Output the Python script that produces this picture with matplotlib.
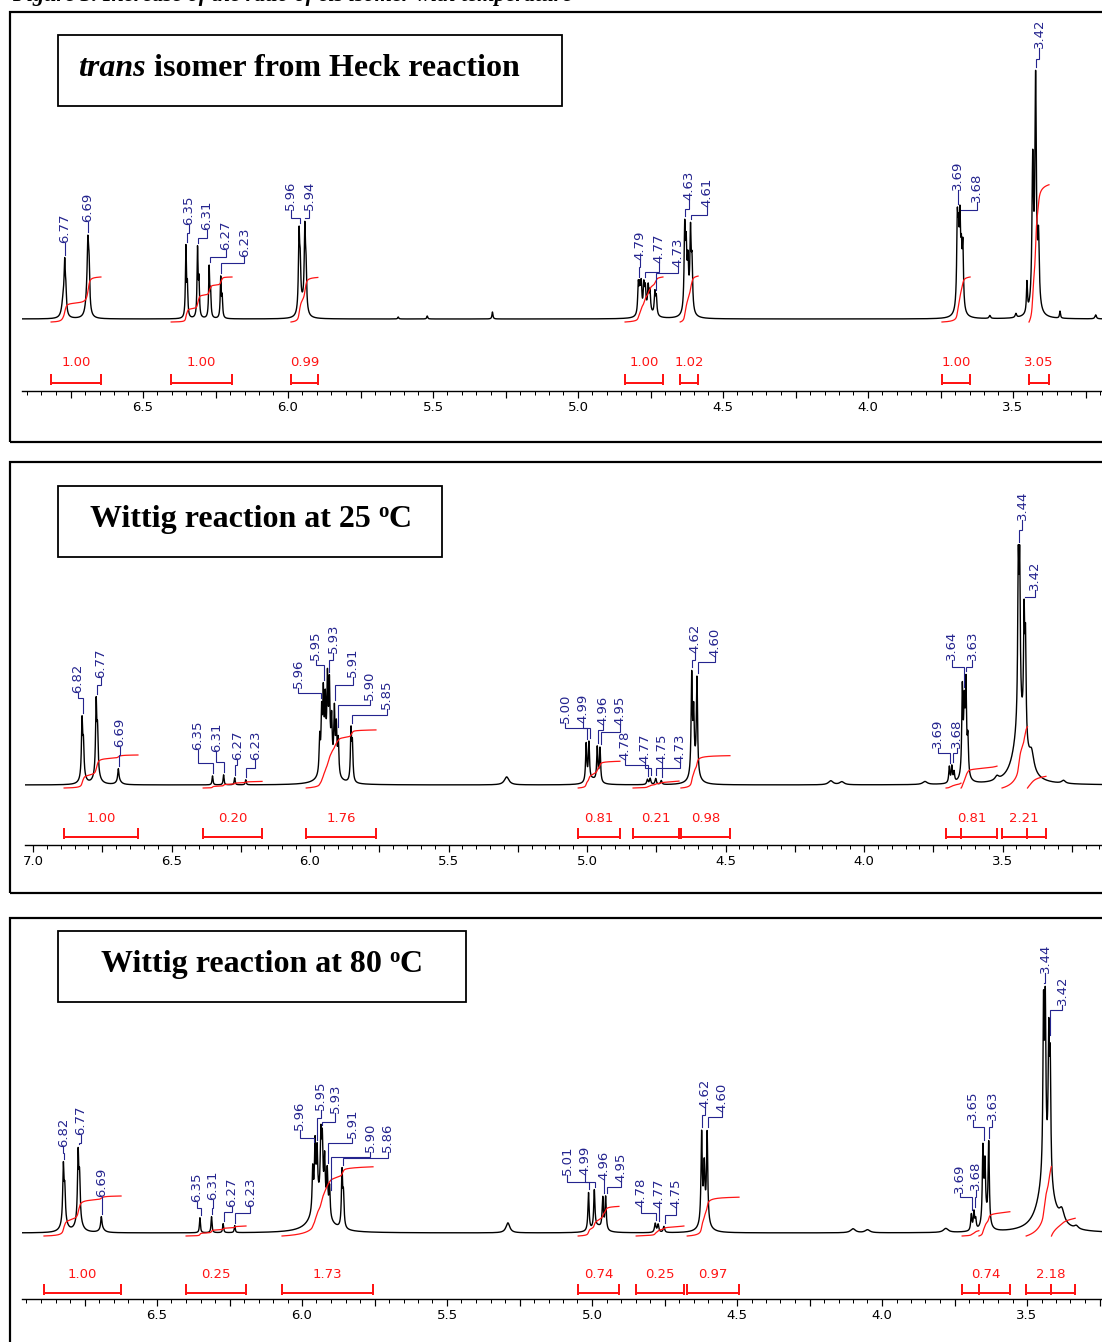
import numpy as np
import matplotlib
matplotlib.use("Agg")
import matplotlib.pyplot as plt
from matplotlib.patches import Rectangle
from matplotlib.ticker import MultipleLocator, FuncFormatter

FIG_W, FIG_H, DPI = 1102, 1342, 100
PT = 72.0 / DPI          # points per pixel
BLUE = "#24248e"
RED = "#ff1414"
D = 0.0025               # default half width of a sharp line (ppm)

# ------------------------------------------------------------------
# Spectrum 1: trans isomer from Heck reaction
# line position (ppm), height, half width (ppm)
heck_pos = [6.775, 6.770, 6.766, 6.692, 6.690, 6.686,
            6.352, 6.347, 6.312, 6.307, 6.272, 6.267, 6.232, 6.227,
            5.962, 5.958, 5.950, 5.942, 5.938,
            4.792, 4.787, 4.782, 4.773, 4.768, 4.758, 4.752, 4.735, 4.730, 4.760,
            4.632, 4.627, 4.621, 4.612, 4.607, 4.620,
            3.692, 3.688, 3.683, 3.678, 3.673, 3.685,
            3.452, 3.432, 3.422, 3.412, 3.425,
            5.295, 5.520, 5.620, 3.338, 3.490, 3.580, 3.215]
heck_amp = [18, 45, 20, 25, 50, 40,
            70, 30, 68, 35, 50, 25, 40, 20,
            75, 40, 12, 77, 40,
            30, 24, 28, 26, 22, 24, 20, 22, 18, 6,
            80, 55, 40, 75, 45, 10,
            80, 55, 75, 45, 60, 10,
            30, 140, 220, 65, 12,
            7, 3, 2, 7, 4, 3, 4]
heck_hw = [0.006, D, D, 0.006, D, D,
           0.002, 0.002, 0.002, 0.002, 0.002, 0.002, 0.002, 0.002,
           D, D, 0.010, D, D,
           D, D, D, D, D, D, D, D, D, 0.020,
           D, D, D, D, D, 0.012,
           D, D, D, D, D, 0.012,
           0.002, 0.003, 0.003, 0.003, 0.015,
           0.002, 0.002, 0.002, 0.002, 0.003, 0.003, 0.003]
heck_labels = [6.77, 6.69, 6.35, 6.31, 6.27, 6.23, 5.96, 5.94,
               4.79, 4.77, 4.73, 4.63, 4.61, 3.69, 3.68, 3.42]
heck_int_limits = [(6.817, 6.645), (6.403, 6.193), (5.990, 5.897),
                   (4.838, 4.707), (4.648, 4.586), (3.745, 3.648),
                   (3.445, 3.376)]
heck_int_values = [1.00, 1.00, 0.99, 1.00, 1.02, 1.00, 3.05]

# ------------------------------------------------------------------
# Spectrum 2: Wittig reaction at 25 oC
w25_pos = [6.823, 6.818, 6.820, 6.772, 6.767, 6.770, 6.692, 6.690,
           6.352, 6.312, 6.272, 6.232,
           5.965, 5.958, 5.952, 5.945, 5.937, 5.930, 5.922, 5.912, 5.905,
           5.898, 5.852, 5.847, 5.935,
           5.290,
           5.003, 4.993, 4.963, 4.953, 4.980,
           4.782, 4.772, 4.752, 4.732,
           4.622, 4.615, 4.603, 4.612,
           3.692, 3.683, 3.675,
           3.645, 3.638, 3.632, 3.625, 3.637,
           3.443, 3.438, 3.422, 3.417, 3.437, 3.395,
           4.120, 4.080, 3.780, 3.280, 3.520]
w25_amp = [55, 30, 8, 70, 40, 10, 12, 4,
           9, 10, 7, 5,
           35, 55, 70, 60, 80, 75, 45, 60, 45,
           35, 50, 35, 18,
           8,
           38, 38, 34, 34, 5,
           5, 6, 6, 4,
           97, 55, 95, 14,
           16, 16, 10,
           85, 60, 85, 35, 10,
           150, 145, 115, 95, 60, 18,
           4, 3, 3, 3, 4]
w25_hw = [D, D, 0.010, D, D, 0.012, D, 0.010,
          0.002, 0.002, 0.002, 0.002,
          D, D, D, D, D, D, D, D, D,
          D, D, D, 0.025,
          0.010,
          D, D, D, D, 0.020,
          0.003, 0.003, 0.003, 0.003,
          D, D, D, 0.015,
          D, D, D,
          D, D, D, D, 0.012,
          D, D, D, D, 0.025, 0.010,
          0.010, 0.010, 0.010, 0.008, 0.008]
w25_labels = [6.82, 6.77, 6.69, 6.35, 6.31, 6.27, 6.23,
              5.96, 5.95, 5.93, 5.91, 5.90, 5.85,
              5.00, 4.99, 4.96, 4.95, 4.78, 4.77, 4.75, 4.73,
              4.62, 4.60, 3.69, 3.68, 3.64, 3.63, 3.44, 3.42]
w25_int_limits = [(6.888, 6.621), (6.386, 6.173), (6.014, 5.762),
                  (5.032, 4.881), (4.834, 4.668), (4.661, 4.484),
                  (3.704, 3.650, 3.520), (3.502, 3.410, 3.343)]
w25_int_values = [1.00, 0.20, 1.76, 0.81, 0.21, 0.98, 0.81, 2.21]

# ------------------------------------------------------------------
# Spectrum 3: Wittig reaction at 80 oC
w80_pos = [6.823, 6.818, 6.820, 6.772, 6.767, 6.770, 6.692, 6.690,
           6.352, 6.312, 6.272, 6.232,
           5.963, 5.955, 5.948, 5.935, 5.930, 5.922, 5.913, 5.905,
           5.862, 5.857, 5.940,
           5.290,
           5.012, 4.992, 4.963, 4.953, 4.980,
           4.782, 4.772, 4.752,
           4.622, 4.613, 4.603, 4.612,
           3.692, 3.683, 3.677,
           3.652, 3.645, 3.632, 3.642,
           3.443, 3.437, 3.425, 3.420, 3.435, 3.380,
           4.100, 4.050, 3.780, 3.330]
w80_amp = [55, 30, 10, 65, 40, 12, 12, 4,
           15, 16, 9, 7,
           42, 62, 50, 62, 58, 48, 42, 30,
           55, 30, 30,
           10,
           38, 38, 31, 33, 6,
           9, 8, 6,
           88, 50, 88, 14,
           16, 18, 10,
           75, 55, 82, 10,
           160, 155, 130, 110, 60, 12,
           4, 3, 4, 3]
w80_hw = [D, D, 0.012, D, D, 0.012, D, 0.010,
          0.002, 0.002, 0.002, 0.002,
          D, D, D, D, D, D, D, D,
          D, D, 0.030,
          0.008,
          D, D, D, D, 0.020,
          0.003, 0.003, 0.003,
          D, D, D, 0.015,
          D, D, D,
          D, D, D, 0.012,
          D, D, D, D, 0.028, 0.010,
          0.010, 0.010, 0.010, 0.008]
w80_labels = [6.82, 6.77, 6.69, 6.35, 6.31, 6.27, 6.23,
              5.96, 5.95, 5.93, 5.91, 5.90, 5.86,
              5.01, 4.99, 4.96, 4.95, 4.78, 4.77, 4.75,
              4.62, 4.60, 3.69, 3.68, 3.65, 3.63, 3.44, 3.42]
w80_int_limits = [(6.890, 6.624), (6.400, 6.193), (6.069, 5.755),
                  (5.048, 4.907), (4.848, 4.683), (4.672, 4.493),
                  (3.724, 3.666, 3.559), (3.503, 3.416, 3.334)]
w80_int_values = [1.00, 0.25, 1.73, 0.74, 0.25, 0.97, 0.74, 2.18]

# ------------------------------------------------------------------
# Label placement (pixels): horizontal shift of the label from its line,
# height of the label foot and of the leader's elbow above the baseline
heck_lab_dx = [0, 0, 2, 9, 16, 23, -9, 4, 1, 14, 22, 4, 16, 0, 16, 3]
heck_lab_h = [76, 97, 94, 89, 69, 62, 109, 109, 59, 56, 52, 119, 112, 129, 117, 271]
heck_lab_k = [70, 90, 86, 81, 62, 56, 101, 101, 52, 47, 46, 110, 104, 120, 109, 260]

w25_lab_dx = [-5, 4, 1, -15, -8, 2, 9, -23, -8, 4, 18, 32, 35,
              -22, -7, 5, 19, -23, -6, 6, 18, 3, 17, -12, 4, -12, 6, 3, 10]
w25_lab_h = [92, 107, 38, 35, 33, 25, 25, 97, 125, 132, 108, 85, 76,
             62, 62, 60, 60, 25, 22, 22, 22, 132, 128, 37, 37, 125, 125, 265, 195]
w25_lab_k = [87, 100, 30, 22, 23, 20, 17, 92, 120, 125, 100, 80, 70,
             57, 57, 55, 53, 20, 17, 17, 17, 125, 123, 32, 32, 118, 118, 255, 188]

w80_lab_dx = [-1, 2, 0, -4, 1, 8, 15, -14, 4, 13, 24, 39, 45,
              -22, -10, 0, 14, -15, 0, 11, 3, 14, -12, 1, -11, 3, 1, 12]
w80_lab_h = [86, 98, 36, 31, 33, 26, 26, 103, 123, 120, 95, 81, 81,
             58, 58, 53, 51, 26, 25, 25, 125, 121, 40, 43, 113, 113, 260, 228]
w80_lab_k = [80, 90, 25, 25, 25, 21, 20, 95, 115, 111, 90, 76, 75,
             51, 51, 45, 46, 20, 18, 18, 118, 116, 36, 36, 106, 106, 250, 223]

# ------------------------------------------------------------------
fig = plt.figure(figsize=(FIG_W / DPI, FIG_H / DPI), dpi=DPI, facecolor="white")
renderer = fig.canvas.get_renderer()


def fx(px):
    return px / FIG_W


def fy(py):
    return 1.0 - py / FIG_H


def lorentz_sum(grid, pos, amp, hw):
    y = np.zeros_like(grid)
    for p, a, w in zip(pos, amp, hw):
        y += a / (1.0 + ((grid - p) / w) ** 2)
    return y


def ppm_tick(v, _):
    if abs(v * 2 - round(v * 2)) < 1e-6:
        return f"{v:.1f}"
    return ""


def draw_panel(box, title_runs, title_xy, title_box, axis_geom, spec, labels,
               layout, integrals, int_scale, y_bracket, y_value):
    # outer frame
    x0, y0, x1, y1 = box
    fig.patches.append(Rectangle((fx(x0), fy(y1)), fx(x1 - x0), (y1 - y0) / FIG_H,
                                 transform=fig.transFigure, fill=False,
                                 edgecolor="black", lw=2.2 * PT))
    # title frame
    bx0, by0, bx1, by1 = title_box
    fig.patches.append(Rectangle((fx(bx0), fy(by1)), fx(bx1 - bx0), (by1 - by0) / FIG_H,
                                 transform=fig.transFigure, fill=False,
                                 edgecolor="black", lw=1.8 * PT))
    # title text as a sequence of styled runs
    tx, ty = title_xy
    for text, kw, gap, rise in title_runs:
        t = fig.text(fx(tx), fy(ty - rise), text, ha="left", va="baseline",
                     family="Liberation Serif", color="black", **kw)
        tx += t.get_window_extent(renderer).width + gap

    left, right, axis_y, top, x6, scale, base = axis_geom
    ax = fig.add_axes([fx(left), fy(axis_y), fx(right - left), (axis_y - top) / FIG_H])
    ax.set_xlim(6.0 + (x6 - left) / scale, 6.0 - (right - x6) / scale)
    ax.set_ylim(-(axis_y - base), base - top)
    ax.patch.set_alpha(0)
    for side in ("left", "right", "top"):
        ax.spines[side].set_visible(False)
    ax.spines["bottom"].set_linewidth(1.4 * PT)
    ax.yaxis.set_visible(False)
    ax.xaxis.set_major_locator(MultipleLocator(0.25))
    ax.xaxis.set_minor_locator(MultipleLocator(0.05))
    ax.xaxis.set_major_formatter(FuncFormatter(ppm_tick))
    ax.tick_params(axis="x", which="major", direction="out", length=7 * PT,
                   width=1.2 * PT, pad=2.5, labelsize=9.5, labelcolor="black")
    ax.tick_params(axis="x", which="minor", direction="out", length=4 * PT,
                   width=1.0 * PT)
    for lab in ax.get_xticklabels():
        lab.set_family("DejaVu Sans")

    pos, amp, hw = spec
    grid = np.arange(7.10, 3.05, -0.0004)
    y = lorentz_sum(grid, pos, amp, hw)
    ax.plot(grid, y, color="black", lw=1.0, zorder=3)

    # integral curves and brackets
    lims, vals = integrals
    for lim, val in zip(lims, vals):
        pieces = []
        for a, b in zip(lim[:-1], lim[1:]):
            m = (grid <= a) & (grid >= b)
            xs, ys = grid[m], y[m]
            cum = np.concatenate([[0.0], np.cumsum(0.5 * (ys[1:] + ys[:-1]) * np.abs(np.diff(xs)))])
            pieces.append((xs, cum))
        total = sum(c[-1] for _, c in pieces)
        for xs, cum in pieces:
            ax.plot(xs, -3 + val * int_scale * cum / total, color=RED, lw=0.9, zorder=4)
        a, b = lim[0], lim[-1]
        ax.plot([a, b], [y_bracket, y_bracket], color=RED, lw=2.0 * PT, solid_capstyle="butt")
        for edge in lim:
            ax.plot([edge, edge], [y_bracket - 2, y_bracket + 9], color=RED, lw=2.0 * PT,
                    solid_capstyle="butt")
        ax.text((a + b) / 2, y_value, f"{val:.2f}", ha="center", va="center",
                color=RED, fontsize=9.5, family="DejaVu Sans")

    # peak picking labels with leaders
    dxs, hs, ks = layout
    for v, dx, h, k in zip(labels, dxs, hs, ks):
        near = np.abs(grid - v) < 0.004
        ptop = y[near].max()
        lx = v - dx / scale
        start = min(ptop + 3, k)
        ax.plot([v, v, lx, lx], [start, k, k, h], color=BLUE, lw=0.8, zorder=5,
                solid_joinstyle="miter")
        ax.text(lx, h, f"{v:.2f}", rotation=90, ha="center", va="bottom",
                color=BLUE, fontsize=9.5, family="DejaVu Sans")
    return ax


# caption line above the panels (runs off the top edge)
fig.text(fx(12), fy(1), "Figure 3. Increase of the ratio of cis isomer with temperature",
         ha="left", va="baseline", family="Liberation Serif", weight="bold",
         style="italic", fontsize=16)

bold = dict(weight="bold", fontsize=23)
bold_it = dict(weight="bold", style="italic", fontsize=23)
small_bold = dict(weight="bold", fontsize=15)

draw_panel(box=(10, 12, 1115, 442),
           title_runs=[("trans", bold_it, 8, 0), ("isomer from Heck reaction", bold, 0, 0)],
           title_xy=(78, 76), title_box=(58, 35, 562, 106),
           axis_geom=(22, 1115, 391, 14, 288, 290, 319),
           spec=(heck_pos, heck_amp, heck_hw), labels=heck_labels,
           layout=(heck_lab_dx, heck_lab_h, heck_lab_k),
           integrals=(heck_int_limits, heck_int_values), int_scale=45,
           y_bracket=-64, y_value=-44)

draw_panel(box=(10, 462, 1115, 893),
           title_runs=[("Wittig reaction at 25", bold, 7, 0), ("o", small_bold, 0, 10),
                       ("C", bold, 0, 0)],
           title_xy=(90, 527), title_box=(58, 486, 442, 557),
           axis_geom=(25, 1115, 845, 464, 310, 277, 785),
           spec=(w25_pos, w25_amp, w25_hw), labels=w25_labels,
           layout=(w25_lab_dx, w25_lab_h, w25_lab_k),
           integrals=(w25_int_limits, w25_int_values), int_scale=33,
           y_bracket=-52, y_value=-34)

draw_panel(box=(10, 918, 1115, 1360),
           title_runs=[("Wittig reaction at 80", bold, 7, 0), ("o", small_bold, 0, 10),
                       ("C", bold, 0, 0)],
           title_xy=(101, 972), title_box=(58, 931, 466, 1002),
           axis_geom=(22, 1115, 1299, 920, 302, 290, 1233),
           spec=(w80_pos, w80_amp, w80_hw), labels=w80_labels,
           layout=(w80_lab_dx, w80_lab_h, w80_lab_k),
           integrals=(w80_int_limits, w80_int_values), int_scale=40,
           y_bracket=-60, y_value=-42)

fig.savefig("out.png", dpi=DPI, facecolor="white")
